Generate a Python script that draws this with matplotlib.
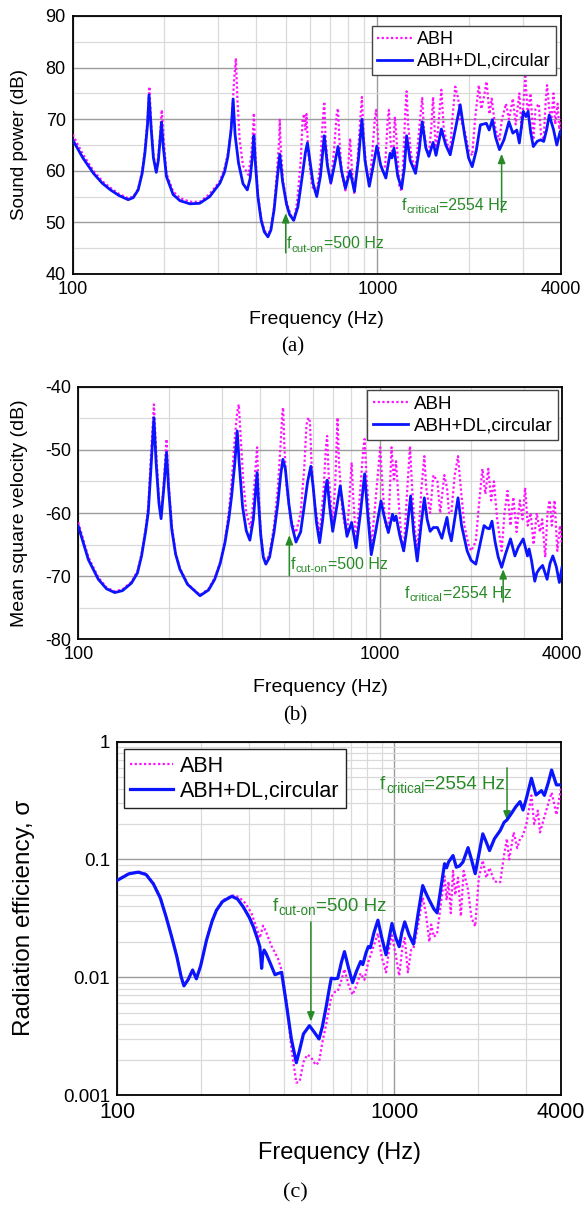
import matplotlib
matplotlib.use('Agg')
import matplotlib.pyplot as plt
from matplotlib.ticker import FixedLocator, FixedFormatter, NullFormatter

plt.rcParams['font.family'] = ['Liberation Sans', 'DejaVu Sans']
plt.rcParams['axes.unicode_minus'] = False

# (frequency Hz, value) pairs
# ---------------- (a) sound power, dB ----------------
a_abh_dl = [(100, 66.0), (108, 62.5), (117, 59.5), (125, 57.6), (133, 56.3), (142, 55.2),
            (152, 54.4), (158, 54.8), (164, 56.3), (169, 59.5), (172.5, 63.4), (176, 69),
            (178, 74.7), (181, 68), (184, 62.5), (188, 59.7), (191, 62), (193.5, 66),
            (195.6, 69.4), (198, 65), (203, 58.9), (213.5, 55.4), (225, 54.2), (242.5, 53.6),
            (261, 53.7), (281.5, 55.0), (304, 57.6), (315, 59.8), (323, 62.8), (331, 68),
            (336, 73.9), (341, 67), (350, 61.5), (362, 57.5), (374, 56.3), (382, 58.5),
            (389, 63), (393, 66.8), (397, 62), (405, 55), (415, 50.5), (425, 48.2), (437, 47.2),
            (447, 48.5), (458, 52.5), (468, 58), (478, 63.2), (488, 58), (503, 53.5),
            (515, 51.5), (531, 50.4), (548, 53), (565, 58.5), (580, 63.5), (589, 65.4),
            (600, 62), (615, 57.5), (632, 55.0), (650, 59), (669, 66.8), (685, 61), (703, 57.7),
            (722, 61), (742, 64.7), (762, 60), (785, 56.6), (813, 60.0), (840, 56.0), (865, 62),
            (889, 70.0), (910, 62), (940, 57.0), (965, 60.5), (995, 64.8), (1025, 61),
            (1065, 58.6), (1100, 63.4), (1115, 62.5), (1133, 64.4), (1165, 59), (1200, 56.6),
            (1225, 60.5), (1246, 66.8), (1280, 62), (1333, 59.5), (1370, 64), (1402, 69.5),
            (1440, 64.5), (1474, 62.8), (1522, 65.5), (1556, 63), (1620, 68.1), (1675, 65),
            (1732, 63.1), (1800, 68), (1868, 72.8), (1930, 67), (1990, 62.5), (2045, 60.8),
            (2110, 64), (2175, 68.9), (2276, 69.2), (2325, 67.9), (2382, 69.9), (2440, 66.5),
            (2513, 64.1), (2600, 66), (2699, 69.5), (2780, 67.3), (2864, 67.9), (2920, 65.4),
            (3010, 71.5), (3070, 70.5), (3120, 71.5), (3180, 67.5), (3245, 64.7), (3340, 65.7),
            (3425, 66.0), (3510, 65.7), (3590, 68), (3660, 70.8), (3780, 68.0), (3875, 65.0),
            (3975, 67.6), (4000, 67.8)]
a_abh = [(100, 67), (108, 63.2), (117, 60), (125, 58), (133, 56.7), (142, 55.5), (152, 54.7),
         (158, 55), (164, 56.5), (169, 60), (172.5, 64), (176, 70), (178.5, 76.3), (181, 69),
         (184, 63), (188, 60), (191, 63), (193.5, 67), (196, 71.8), (199, 66), (203, 59.5),
         (213.5, 56), (225, 54.7), (242.5, 54), (261, 54), (281.5, 55.5), (304, 58),
         (315, 60.5), (325, 64), (333, 70), (338, 77), (343, 81.8), (347, 74), (353, 66),
         (362, 61), (377, 59.2), (385, 63), (390, 67), (393, 71.2), (397, 64), (405, 55.5),
         (415, 51), (425, 48.5), (437, 47.4), (447, 49), (458, 53), (468, 60), (476, 66),
         (478, 69.9), (481, 65), (490, 58), (503, 54), (515, 52), (531, 50.2), (545, 54),
         (560, 62), (568, 70), (575, 71), (580, 68), (585, 71), (592, 64), (610, 57),
         (632, 55.5), (650, 62), (662, 70), (669, 73.4), (676, 66), (690, 60), (703, 57.5),
         (720, 64), (735, 71), (742, 72.1), (750, 66), (765, 59), (785, 56.2), (800, 60),
         (813, 66.3), (825, 60), (840, 55.5), (860, 62), (878, 70), (889, 74.3), (900, 67),
         (920, 60), (940, 57), (960, 63), (980, 70), (990, 71.8), (1000, 68), (1015, 62),
         (1040, 60), (1060, 61), (1080, 70), (1090, 71.8), (1105, 65), (1125, 63), (1140, 70.5),
         (1155, 66), (1180, 57), (1200, 56), (1215, 62), (1235, 72), (1246, 75.4), (1260, 69),
         (1290, 63), (1333, 60), (1360, 66), (1390, 72), (1402, 74.1), (1420, 68), (1450, 64),
         (1474, 63), (1500, 68), (1522, 74.3), (1540, 68), (1556, 64), (1590, 70), (1620, 75.7),
         (1650, 68), (1700, 65), (1732, 64), (1760, 70), (1800, 76.3), (1840, 74), (1868, 70),
         (1930, 68), (1990, 64), (2045, 63), (2090, 70), (2150, 76.6), (2190, 72), (2230, 74),
         (2280, 77.3), (2330, 71), (2370, 74), (2440, 68), (2513, 66), (2560, 70), (2640, 73),
         (2700, 70), (2780, 74), (2840, 69), (2920, 75), (2970, 68), (3055, 78.3), (3110, 71),
         (3180, 75), (3245, 66), (3300, 72), (3380, 73), (3440, 67), (3510, 66), (3560, 73),
         (3600, 76.6), (3660, 72), (3720, 70), (3780, 75), (3830, 69), (3900, 73), (3950, 68),
         (4000, 70)]

# ---------------- (b) mean square velocity, dB ----------------
b_abh_dl = [(100, -62.1), (108, -67.4), (116.5, -70.5), (124, -72), (132, -72.6), (140, -72.3),
            (150, -71.1), (157, -69.5), (162, -66.8), (167, -63), (170.5, -59.9), (174, -53),
            (178, -44.9), (181, -52), (185, -58.5), (188, -60.9), (192, -56), (196, -50.4),
            (199, -56), (204, -62.6), (210, -66.5), (217, -68.9), (230, -71.3), (253, -73.1),
            (270, -72.2), (283, -70.5), (295, -68), (306, -64.7), (315, -61), (322, -57.3),
            (330, -52), (336, -47.0), (341, -52), (350, -59), (360, -62.8), (370, -64.3),
            (380, -61), (386, -57), (391, -53.6), (395, -58), (402, -63.5), (410, -67),
            (418, -68.1), (430, -67), (445, -63), (458, -58.5), (468, -54), (476, -51.5),
            (485, -53), (498, -58.5), (510, -62), (526, -64.6), (545, -63), (560, -59),
            (575, -55), (589, -52.6), (600, -56), (615, -61.5), (630, -64.7), (645, -61),
            (660, -56), (667, -54.8), (680, -59), (696, -62.9), (715, -59.5), (737, -55.7),
            (755, -59.5), (776, -63.7), (804, -61.5), (832, -65.5), (860, -60), (888, -53.8),
            (905, -59), (934, -66.6), (965, -63), (1006, -58.1), (1030, -60.5), (1064, -63.1),
            (1098, -60.2), (1112, -61.2), (1128, -60.5), (1160, -63.5), (1196, -66.0),
            (1230, -62), (1261, -57.3), (1290, -63), (1326, -67.6), (1365, -62), (1400, -57.6),
            (1430, -61), (1463, -62.9), (1500, -62.3), (1547, -62.3), (1600, -64), (1664, -60.7),
            (1690, -63), (1720, -64.4), (1765, -61), (1810, -57.6), (1860, -62), (1940, -66),
            (2000, -67.5), (2073, -68.1), (2140, -65), (2207, -62.0), (2260, -62.4),
            (2300, -62.5), (2345, -61.3), (2400, -64.5), (2460, -67), (2525, -68.6),
            (2600, -66.5), (2701, -64.1), (2793, -66.8), (2860, -65.5), (2976, -64.1),
            (3074, -66.8), (3113, -65.7), (3170, -67.5), (3250, -70.8), (3300, -69.5),
            (3360, -68.9), (3450, -68.3), (3570, -70.5), (3650, -68), (3730, -66.8),
            (3830, -68.5), (3920, -71.0), (4000, -68.6)]
b_abh = [(100, -61.5), (108, -67), (116.5, -70.2), (124, -71.8), (132, -72.4), (140, -72.1),
         (150, -70.9), (157, -69.2), (162, -66.5), (167, -62.5), (170.5, -59), (174, -51),
         (178, -42.8), (181, -50), (185, -58), (188, -60.5), (192, -55), (196, -48.3),
         (199, -55), (204, -62), (210, -66.3), (217, -68.7), (230, -71.2), (253, -73),
         (270, -72), (283, -70.3), (295, -67.8), (306, -64.3), (315, -60), (322, -55),
         (330, -48), (336, -44), (340, -42.8), (345, -48), (352, -55), (360, -60), (372, -62.3),
         (380, -58), (386, -53), (391, -49.6), (395, -56), (402, -63), (410, -66.8),
         (418, -67.8), (430, -66.5), (445, -62), (458, -56), (468, -49), (474, -44),
         (477, -43.3), (481, -49), (490, -56), (505, -61), (526, -63.1), (545, -60), (560, -53),
         (570, -46), (578, -44.9), (585, -45.5), (592, -52), (605, -58), (630, -63.5),
         (650, -56), (660, -50), (667, -47.8), (675, -54), (696, -62), (710, -55), (722, -44.9),
         (730, -52), (750, -60), (776, -63.5), (790, -58), (804, -52), (815, -58), (832, -64.8),
         (860, -56), (878, -50), (888, -48.3), (900, -54), (934, -65.5), (965, -58),
         (1000, -49.6), (1015, -55), (1040, -62), (1064, -62.5), (1090, -49.6), (1110, -55),
         (1128, -51.8), (1150, -58), (1180, -65), (1196, -66), (1230, -56), (1255, -49.4),
         (1275, -56), (1300, -62), (1326, -66.5), (1370, -56), (1400, -51), (1420, -56),
         (1463, -60), (1500, -54), (1547, -55), (1580, -60), (1630, -54), (1664, -56),
         (1690, -60), (1720, -60), (1765, -54), (1810, -51), (1840, -55), (1900, -62),
         (1960, -65), (2000, -66), (2073, -64.5), (2120, -59), (2180, -53), (2230, -57),
         (2280, -53), (2330, -58), (2380, -55), (2440, -61), (2525, -66), (2580, -60),
         (2640, -56.5), (2700, -62), (2760, -57.5), (2830, -63), (2900, -58), (2960, -61),
         (3020, -56), (3080, -62), (3150, -60), (3220, -65), (3300, -60), (3380, -63),
         (3440, -61), (3520, -67), (3580, -60), (3640, -58), (3700, -62), (3780, -58),
         (3860, -66), (3940, -62), (4000, -65)]

# ---------------- (c) radiation efficiency ----------------
c_abh_dl = [(100, 0.0665), (110, 0.0755), (119, 0.078), (127, 0.0745), (135, 0.062),
            (143, 0.047), (150, 0.0326), (157, 0.0222), (164, 0.0150), (170, 0.0101),
            (174, 0.00845), (180, 0.0095), (187, 0.0115), (193, 0.0097), (200, 0.0125),
            (210, 0.0207), (220, 0.030), (228, 0.037), (240, 0.044), (259, 0.0487), (272, 0.046),
            (285, 0.0395), (300, 0.032), (310, 0.0268), (320, 0.0215), (327, 0.0182),
            (330, 0.0145), (332, 0.0119), (335, 0.0155), (339, 0.0170), (345, 0.0158),
            (355, 0.0135), (371, 0.0105), (382, 0.0108), (392, 0.011), (400, 0.008),
            (409, 0.00565), (425, 0.003), (443, 0.00188), (455, 0.0024), (470, 0.0033),
            (494, 0.00388), (515, 0.0034), (535, 0.00299), (550, 0.0038), (568, 0.00565),
            (580, 0.0075), (592, 0.0098), (610, 0.0097), (625, 0.0098), (645, 0.0135),
            (661, 0.0165), (685, 0.0118), (707, 0.009), (730, 0.0112), (756, 0.0136),
            (770, 0.0128), (790, 0.016), (806, 0.0182), (820, 0.0178), (845, 0.024),
            (873, 0.0305), (900, 0.022), (934, 0.0155), (960, 0.022), (981, 0.0286),
            (1010, 0.022), (1042, 0.0182), (1065, 0.024), (1091, 0.0295), (1130, 0.023),
            (1173, 0.0191), (1220, 0.035), (1267, 0.060), (1300, 0.052), (1339, 0.045),
            (1390, 0.038), (1428, 0.0352), (1470, 0.055), (1519, 0.092), (1545, 0.085),
            (1570, 0.095), (1630, 0.108), (1675, 0.086), (1720, 0.088), (1770, 0.095),
            (1847, 0.126), (1900, 0.1), (1960, 0.0757), (2020, 0.11), (2088, 0.165),
            (2150, 0.14), (2208, 0.119), (2300, 0.15), (2413, 0.176), (2493, 0.207),
            (2550, 0.216), (2652, 0.247), (2746, 0.28), (2846, 0.31), (2917, 0.263),
            (3000, 0.33), (3128, 0.489), (3250, 0.353), (3400, 0.384), (3484, 0.35),
            (3600, 0.45), (3700, 0.575), (3850, 0.43), (4000, 0.43)]
c_abh = [(100, 0.067), (110, 0.076), (119, 0.079), (127, 0.0755), (135, 0.063), (143, 0.048),
         (150, 0.033), (157, 0.0225), (164, 0.0152), (170, 0.0102), (174, 0.0085), (180, 0.0096),
         (187, 0.0116), (193, 0.0098), (200, 0.0126), (210, 0.021), (220, 0.0305),
         (228, 0.0375), (240, 0.045), (262, 0.0495), (275, 0.048), (290, 0.0425), (305, 0.035),
         (318, 0.0265), (327, 0.0215), (336, 0.0274), (345, 0.024), (360, 0.0185),
         (380, 0.0145), (392, 0.0115), (400, 0.0085), (409, 0.006), (425, 0.0025),
         (443, 0.00127), (455, 0.0013), (470, 0.0019), (485, 0.0022), (500, 0.0021),
         (520, 0.0018), (535, 0.0019), (550, 0.0028), (568, 0.004), (592, 0.0068),
         (610, 0.0075), (625, 0.0076), (645, 0.0095), (661, 0.0117), (685, 0.0085),
         (707, 0.0071), (730, 0.0085), (756, 0.0108), (780, 0.0095), (806, 0.0135),
         (840, 0.018), (873, 0.0236), (900, 0.015), (934, 0.011), (960, 0.018), (981, 0.0227),
         (1010, 0.016), (1042, 0.0103), (1070, 0.018), (1091, 0.0215), (1120, 0.011),
         (1150, 0.017), (1173, 0.0175), (1220, 0.028), (1267, 0.0474), (1300, 0.035),
         (1339, 0.02), (1360, 0.028), (1390, 0.022), (1428, 0.0235), (1470, 0.04),
         (1519, 0.072), (1545, 0.045), (1570, 0.065), (1600, 0.035), (1630, 0.08), (1660, 0.05),
         (1700, 0.07), (1740, 0.033), (1780, 0.08), (1847, 0.055), (1900, 0.032), (1960, 0.027),
         (2020, 0.07), (2088, 0.098), (2150, 0.07), (2208, 0.085), (2300, 0.065), (2413, 0.064),
         (2493, 0.11), (2550, 0.15), (2600, 0.1), (2700, 0.17), (2780, 0.125), (2846, 0.15),
         (2917, 0.16), (3000, 0.2), (3128, 0.35), (3200, 0.2), (3300, 0.26), (3360, 0.17),
         (3484, 0.23), (3600, 0.3), (3700, 0.37), (3800, 0.28), (3850, 0.24), (4000, 0.4)]

legend_labels = ['ABH', 'ABH+DL,circular']
f_cut_on = 500
f_critical = 2554

GREEN = '#278a27'
PINK = '#ff10ff'
BLUE = '#0a14ff'

fig = plt.figure(figsize=(5.85, 12.07), dpi=100)


def px_axes(l, t, r, b):
    return fig.add_axes([l / 585, 1 - b / 1207, (r - l) / 585, (b - t) / 1207])


def style(ax, fs):
    ax.set_xscale('log')
    ax.set_xlim(100, 4000)
    ax.xaxis.set_major_locator(FixedLocator([100, 1000, 4000]))
    ax.xaxis.set_major_formatter(FixedFormatter(['100', '1000', '4000']))
    ax.xaxis.set_minor_locator(FixedLocator([200, 300, 400, 500, 600, 700, 800, 900, 2000, 3000]))
    ax.xaxis.set_minor_formatter(NullFormatter())
    ax.grid(which='major', color='#9c9c9c', lw=1.0)
    ax.grid(which='minor', color='#dadada', lw=0.9)
    ax.set_axisbelow(True)
    ax.tick_params(which='both', length=0, labelsize=fs, pad=5)
    for s in ax.spines.values():
        s.set_linewidth(1.3)


def flabel(ax, x, y, sub, rest, fs):
    t1 = ax.text(x, y, 'f', fontsize=fs, color=GREEN, va='baseline', ha='left')
    t2 = ax.annotate(sub, xy=(1, 0), xycoords=t1, xytext=(0.3, -0.16 * fs),
                     textcoords='offset points', fontsize=fs * 0.72, color=GREEN,
                     va='bottom', ha='left')
    ax.annotate(rest, xy=(1, 0), xycoords=(t2, t1), fontsize=fs, color=GREEN,
                va='bottom', ha='left')


def arrow(ax, x, y0, y1):
    ax.annotate('', xy=(x, y1), xytext=(x, y0),
                arrowprops=dict(arrowstyle='-|>,head_length=0.55,head_width=0.22',
                                color=GREEN, lw=1.1, shrinkA=0, shrinkB=0))


def curves(ax, pink, blue, lwb):
    fp, vp = zip(*pink)
    fb, vb = zip(*blue)
    ax.plot(fp, vp, color=PINK, lw=1.6, ls=(0, (1, 1.1)), label=legend_labels[0], zorder=3)
    ax.plot(fb, vb, color=BLUE, lw=lwb, label=legend_labels[1], zorder=4)


# ---- (a)
ax = px_axes(72.7, 16, 561, 274)
style(ax, 13)
curves(ax, a_abh, a_abh_dl, 2.0)
ax.set_ylim(40, 90)
ax.yaxis.set_major_locator(FixedLocator([40, 50, 60, 70, 80, 90]))
ax.yaxis.set_minor_locator(FixedLocator([45, 55, 65, 75, 85]))
ax.set_ylabel('Sound power (dB)', fontsize=13.5)
ax.yaxis.set_label_coords(-0.092, 0.5)
ax.set_xlabel('Frequency (Hz)', fontsize=14)
ax.xaxis.set_label_coords(0.5, -0.143)
leg = ax.legend(loc='upper right', bbox_to_anchor=(0.99, 0.961), borderaxespad=0,
                fancybox=False, edgecolor='#444444', framealpha=1, fontsize=13,
                handlelength=1.9, handletextpad=0.3, labelspacing=0.25, borderpad=0.3)
leg.get_frame().set_linewidth(1.0)
arrow(ax, f_cut_on, 44.1, 51.8)
flabel(ax, 505, 45.0, 'cut-on', '=500 Hz', 11.5)
arrow(ax, f_critical, 52.0, 63.3)
flabel(ax, 1200, 52.5, 'critical', '=2554 Hz', 11.5)
fig.text(293 / 585, 1 - 347 / 1207, '(a)', family='Liberation Serif', fontsize=15,
         ha='center', va='center')

# ---- (b)
ax = px_axes(78.3, 386.7, 562, 639.3)
style(ax, 13)
curves(ax, b_abh, b_abh_dl, 2.0)
ax.set_ylim(-80, -40)
ax.yaxis.set_major_locator(FixedLocator([-80, -70, -60, -50, -40]))
ax.yaxis.set_minor_locator(FixedLocator([-75, -65, -55, -45]))
ax.set_ylabel('Mean square velocity (dB)', fontsize=14)
ax.yaxis.set_label_coords(-0.104, 0.5)
ax.set_xlabel('Frequency (Hz)', fontsize=14)
ax.xaxis.set_label_coords(0.5, -0.157)
leg = ax.legend(loc='upper right', bbox_to_anchor=(0.992, 0.987), borderaxespad=0,
                fancybox=False, edgecolor='#444444', framealpha=1, fontsize=13.5,
                handlelength=1.9, handletextpad=0.3, labelspacing=0.25, borderpad=0.3)
leg.get_frame().set_linewidth(1.0)
arrow(ax, f_cut_on, -69.9, -63.5)
flabel(ax, 505, -68.8, 'cut-on', '=500 Hz', 11.5)
arrow(ax, f_critical, -74.1, -68.9)
flabel(ax, 1208, -73.4, 'critical', '=2554 Hz', 11.5)
fig.text(295 / 585, 1 - 716 / 1207, '(b)', family='Liberation Serif', fontsize=15,
         ha='center', va='center')

# ---- (c)
ax = px_axes(117.3, 741.7, 561, 1095)
style(ax, 15.5)
curves(ax, c_abh, c_abh_dl, 2.3)
ax.set_yscale('log')
ax.set_ylim(0.001, 1)
ax.yaxis.set_major_locator(FixedLocator([0.001, 0.01, 0.1, 1]))
ax.yaxis.set_major_formatter(FixedFormatter(['0.001', '0.01', '0.1', '1']))
ax.yaxis.set_minor_locator(FixedLocator([m * d for d in (0.001, 0.01, 0.1) for m in range(2, 10)]))
ax.yaxis.set_minor_formatter(NullFormatter())
ax.tick_params(axis='y', which='both', labelsize=13.5)
ax.set_ylabel('Radiation efficiency, σ', fontsize=17.5)
ax.yaxis.set_label_coords(-0.185, 0.5)
ax.set_xlabel('Frequency (Hz)', fontsize=17)
ax.xaxis.set_label_coords(0.5, -0.133)
leg = ax.legend(loc='upper left', bbox_to_anchor=(0.015, 0.979), borderaxespad=0,
                fancybox=False, edgecolor='#222222', framealpha=1, fontsize=15.5,
                handlelength=2.0, handletextpad=0.3, labelspacing=0.2, borderpad=0.3)
leg.get_frame().set_linewidth(1.0)
arrow(ax, f_cut_on, 0.0295, 0.0042)
flabel(ax, 365, 0.0363, 'cut-on', '=500 Hz', 13.5)
arrow(ax, f_critical, 0.60, 0.214)
flabel(ax, 890, 0.394, 'critical', '=2554 Hz', 13.5)
fig.text(295 / 585, 1 - 1193 / 1207, '(c)', family='Liberation Serif', fontsize=16,
         ha='center', va='center')

fig.savefig('out.png', dpi=100)
